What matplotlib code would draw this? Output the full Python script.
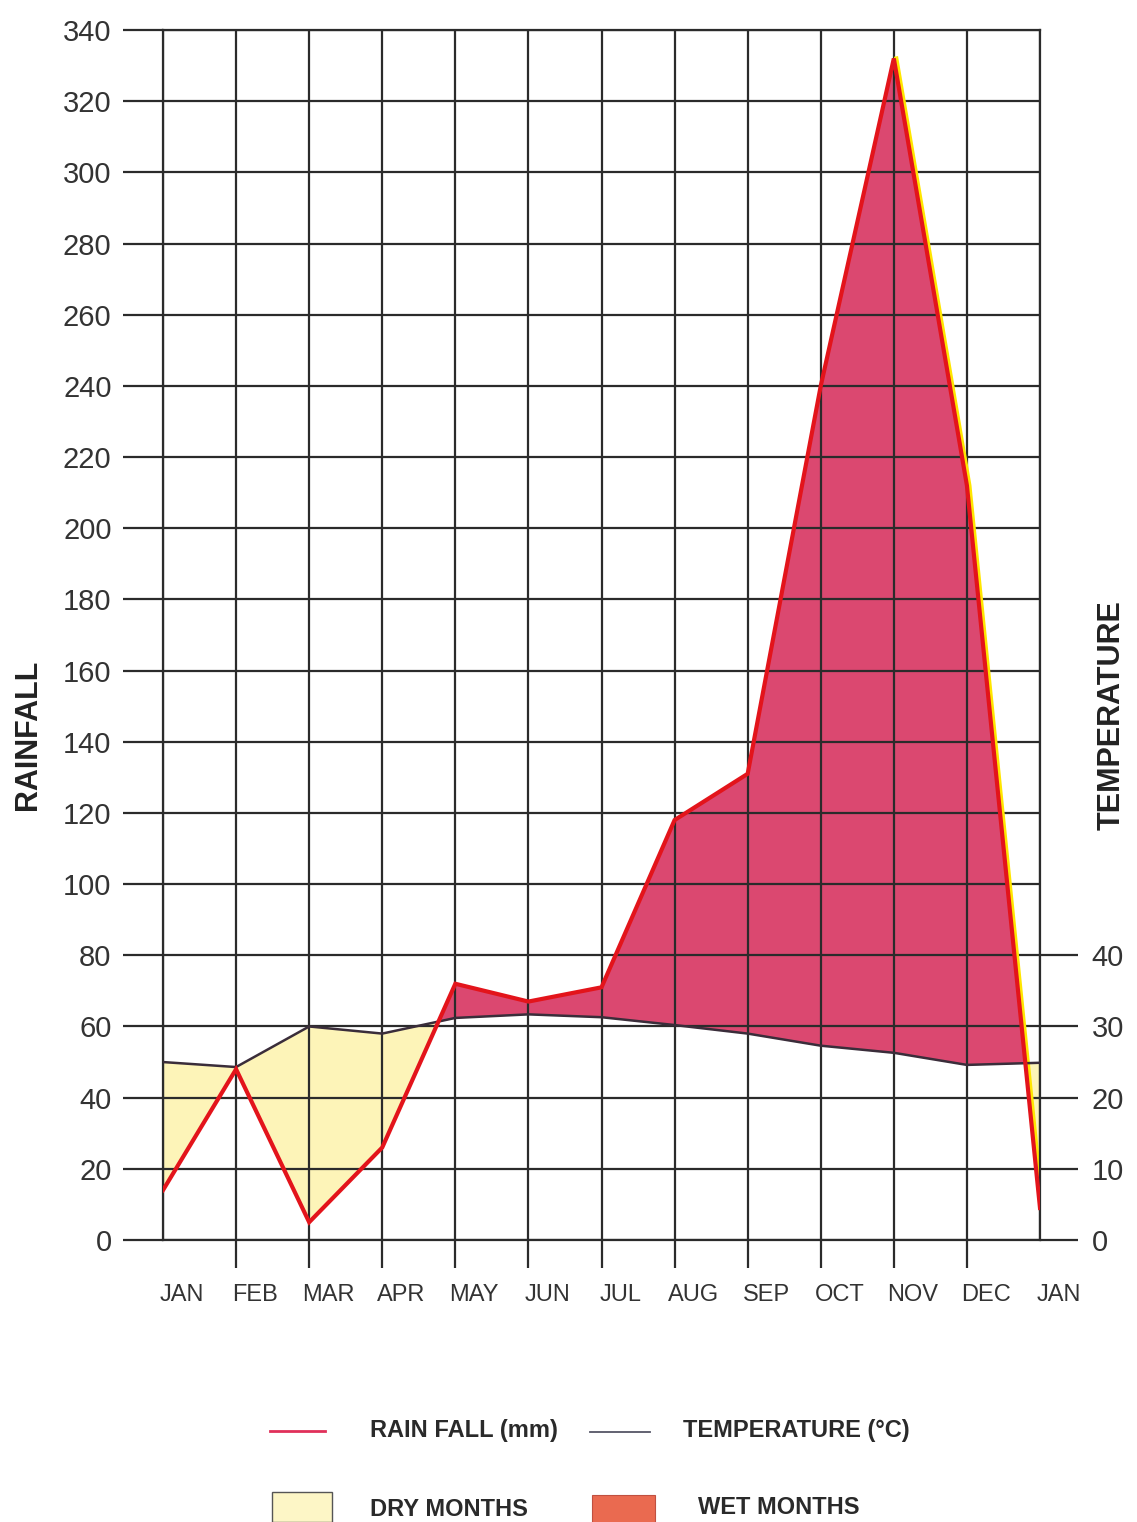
import numpy as np
import matplotlib.pyplot as plt
import matplotlib.transforms as mtransforms
from matplotlib.patches import Rectangle
from matplotlib.lines import Line2D

months = ['JAN', 'FEB', 'MAR', 'APR', 'MAY', 'JUN', 'JUL', 'AUG', 'SEP', 'OCT', 'NOV', 'DEC', 'JAN']
rainfall = [14, 48, 5, 26, 72, 67, 71, 118, 131, 240, 332, 212, 9]          # mm
temperature = [25, 24.3, 30, 29, 31.2, 31.7, 31.3, 30.2, 29, 27.3, 26.3, 24.6, 24.9]  # deg C
rain_ticks = list(range(0, 341, 20))
temp_ticks = [0, 10, 20, 30, 40]

GRID = '#2b2b2b'
WET = '#db4870'
DRY = '#fdf4b8'
RED = '#e3141b'
W, H = 1137, 1522

plt.rcParams['font.family'] = ['Liberation Sans', 'DejaVu Sans']

fig = plt.figure(figsize=(W / 100, H / 100), dpi=100)
ax = fig.add_axes([163 / W, 1 - 1240 / H, (1040 - 163) / W, (1240 - 30) / H])

x = np.arange(len(months))
rain = np.array(rainfall, dtype=float)
temp = np.array(temperature, dtype=float)
temp_r = temp * 2  # temperature on the rainfall scale (1 degC = 2 mm)

ax.fill_between(x, rain, temp_r, where=rain >= temp_r, interpolate=True,
                color=WET, lw=0, zorder=1)
ax.fill_between(x, rain, temp_r, where=rain <= temp_r, interpolate=True,
                color=DRY, lw=0, zorder=1)

ax.set_xlim(0, 12)
ax.set_ylim(0, 340)
ax.set_yticks(rain_ticks)
ax.set_xticks(x)
ax.grid(True, color=GRID, lw=1.6, zorder=2)
ax.set_axisbelow(False)
for s in ax.spines.values():
    s.set_color(GRID)
    s.set_linewidth(1.6)
    s.set_zorder(3)

# yellow edge along the falling limb, then the lines
shift = mtransforms.offset_copy(ax.transData, fig=fig, x=2.5, y=0, units='dots')
ax.plot(x[10:], rain[10:], color='#ffe600', lw=3, transform=shift, zorder=3)
ax.plot(x, temp_r, color='#3a2d3a', lw=1.8, zorder=4)
ax.plot(x, rain, color=RED, lw=3, zorder=5, solid_joinstyle='miter')

ax.tick_params(axis='y', length=29, width=1.6, color=GRID, pad=8,
               labelsize=21, labelcolor='#333333')
ax.set_xticklabels(months)
ax.tick_params(axis='x', which='major', length=0, pad=32, labelsize=17,
               labelcolor='#333333')
ax.xaxis.remove_overlapping_locs = False
ax.set_xticks(x[1:-1], minor=True)
ax.tick_params(axis='x', which='minor', length=20, width=1.6, color=GRID)
lab_shift = mtransforms.ScaledTranslation(0.19, 0, fig.dpi_scale_trans)
for lbl in ax.get_xticklabels():
    lbl.set_transform(lbl.get_transform() + lab_shift)

ax2 = ax.twinx()
ax2.set_ylim(0, 170)
ax2.set_yticks(temp_ticks)
ax2.tick_params(axis='y', length=27, width=1.6, color=GRID, pad=10,
                labelsize=21, labelcolor='#333333')
for s in ax2.spines.values():
    s.set_visible(False)

fig.text(28 / W, 1 - 735 / H, 'RAINFALL', rotation=90, ha='center', va='center',
         fontsize=22, fontweight='bold', color='#222222')
fig.text(1112 / W, 1 - 715 / H, 'TEMPERATURE', rotation=90, ha='center', va='center',
         fontsize=22, fontweight='bold', color='#222222')

# legend drawn in pixel coordinates
lg = fig.add_axes([0, 0, 1, 1])
lg.set_xlim(0, W)
lg.set_ylim(H, 0)
lg.axis('off')
lg.add_line(Line2D([270, 325], [1431, 1431], color='#e0305a', lw=2))
lg.add_line(Line2D([590, 650], [1432, 1432], color='#555566', lw=1.3))
lg.add_patch(Rectangle((272, 1492), 60, 30, facecolor='#fdf6c6', edgecolor='#555555', lw=1))
lg.add_patch(Rectangle((592, 1495), 63, 30, facecolor='#ea6a50', edgecolor='#c05040', lw=0.8))
lfont = dict(fontsize=17, fontweight='bold', color='#2a2a2a', va='center', ha='left',
             family=['Liberation Sans Narrow', 'Liberation Sans', 'DejaVu Sans'])
lg.text(370, 1430, 'RAIN FALL (mm)', **lfont)
lg.text(683, 1430, 'TEMPERATURE (°C)', **lfont)
lg.text(370, 1510, 'DRY MONTHS', **lfont)
lg.text(698, 1508, 'WET MONTHS', **lfont)

fig.savefig('out.png', dpi=100)
